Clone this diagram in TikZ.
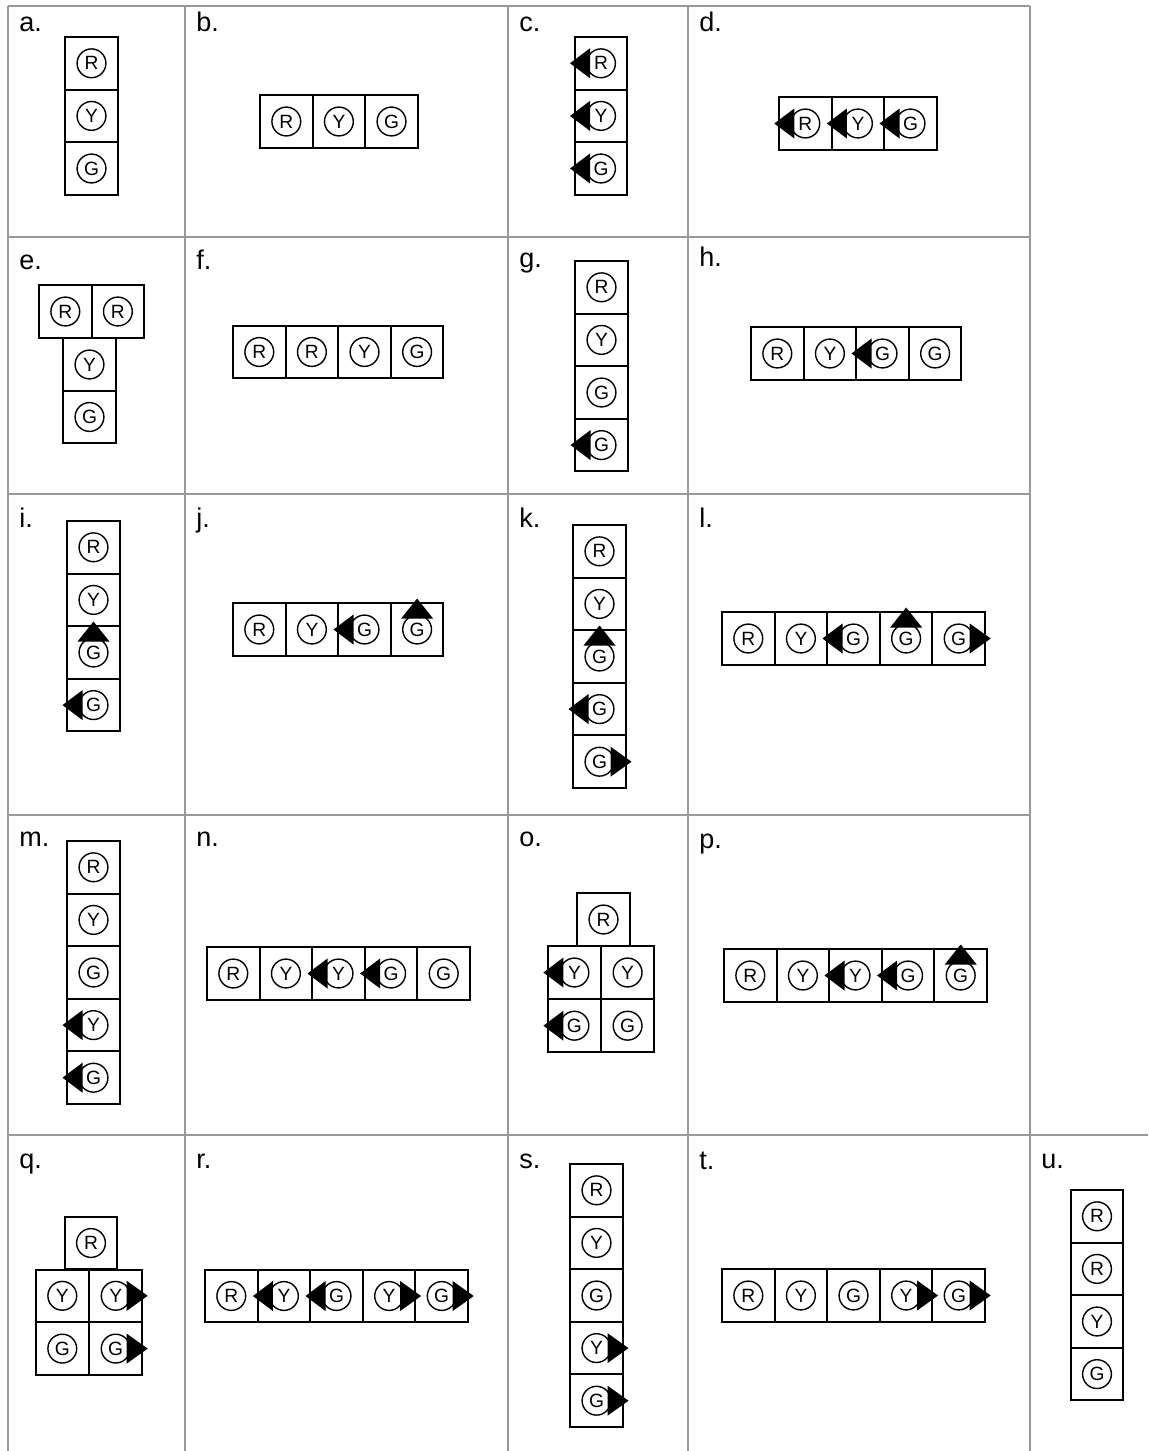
\documentclass[tikz,border=0pt]{standalone}
\usepackage{fontspec}
\setmainfont{Liberation Sans}
\begin{document}
\begin{tikzpicture}[x=0.5pt,y=-0.5pt,
  sq/.style={draw, line width=1pt, minimum size=26.3pt, inner sep=0pt, outer sep=0pt},
  disc/.style={circle, draw, line width=0.7pt, minimum size=14.4pt, inner sep=0pt, font=\fontsize{9.6}{9.6}\selectfont},
  lbl/.style={anchor=base west, inner sep=0pt, font=\fontsize{13.5}{13.5}\selectfont},
  gridline/.style={draw=black!40, line width=1.3pt},
  tri/.style={fill=black}]
\newcommand\C[4]{\node[sq] (#1) at (#2,#3) {}; \node[disc] (#1o) at (#1.center) {#4};}
\newcommand\AL[1]{\fill[tri] ([xshift=-15.5pt]#1.center) -- ([xshift=-5.5pt,yshift=7.5pt]#1.center) -- ([xshift=-5.5pt,yshift=-7.5pt]#1.center) -- cycle;}
\newcommand\AR[1]{\fill[tri] ([xshift=16pt]#1.center) -- ([xshift=5.5pt,yshift=7.5pt]#1.center) -- ([xshift=5.5pt,yshift=-7.5pt]#1.center) -- cycle;}
\newcommand\AU[1]{\fill[tri] ([yshift=15.5pt]#1.center) -- ([xshift=8pt,yshift=5.5pt]#1.center) -- ([xshift=-8pt,yshift=5.5pt]#1.center) -- cycle;}
\useasboundingbox (0,0) rectangle (1148,1451);
% grid
\foreach \gx in {8,185,508,688,1030} {\draw[gridline] (\gx,6) -- (\gx,1451);}
\foreach \gy in {6,237,494,815} {\draw[gridline] (8,\gy) -- (1030,\gy);}
\draw[gridline] (8,1135) -- (1148,1135);
% labels
\node[lbl] (la) at (19,32) {a.};
\node[lbl] (lb) at (196,32) {b.};
\node[lbl] (lc) at (519,32) {c.};
\node[lbl] (ld) at (699,32) {d.};
\node[lbl] (le) at (19,269) {e.};
\node[lbl] (lf) at (196,269) {f.};
\node[lbl] (lg) at (519,267) {g.};
\node[lbl] (lh) at (699,266) {h.};
\node[lbl] (li) at (19,527) {i.};
\node[lbl] (lj) at (196,527) {j.};
\node[lbl] (lk) at (519,527) {k.};
\node[lbl] (ll) at (699,527) {l.};
\node[lbl] (lm) at (19,846) {m.};
\node[lbl] (ln) at (196,846) {n.};
\node[lbl] (lo) at (519,846) {o.};
\node[lbl] (lp) at (699,848) {p.};
\node[lbl] (lq) at (19,1168) {q.};
\node[lbl] (lr) at (196,1168) {r.};
\node[lbl] (ls) at (519,1168) {s.};
\node[lbl] (lt) at (699,1169) {t.};
\node[lbl] (lu) at (1041,1168) {u.};
% a
\C{a1}{91.5}{63.3}{R} \C{a2}{91.5}{115.9}{Y} \C{a3}{91.5}{168.5}{G}
% b
\C{b1}{286.3}{121.5}{R} \C{b2}{338.9}{121.5}{Y} \C{b3}{391.5}{121.5}{G}
% c
\C{c1}{601}{63.3}{R} \C{c2}{601}{115.9}{Y} \C{c3}{601}{168.5}{G}
\AL{c1} \AL{c2} \AL{c3}
% d
\C{d1}{805.3}{123.5}{R} \C{d2}{857.9}{123.5}{Y} \C{d3}{910.5}{123.5}{G}
\AL{d1} \AL{d2} \AL{d3}
% e
\C{e1}{65.3}{311.5}{R} \C{e2}{117.9}{311.5}{R} \C{e3}{89.5}{364.5}{Y} \C{e4}{89.5}{417}{G}
% f
\C{f1}{259.3}{352}{R} \C{f2}{311.9}{352}{R} \C{f3}{364.5}{352}{Y} \C{f4}{417.1}{352}{G}
% g
\C{g1}{601.5}{287.3}{R} \C{g2}{601.5}{339.9}{Y} \C{g3}{601.5}{392.5}{G} \C{g4}{601.5}{445.1}{G}
\AL{g4}
% h
\C{h1}{777.3}{353.5}{R} \C{h2}{829.9}{353.5}{Y} \C{h3}{882.5}{353.5}{G} \C{h4}{935.1}{353.5}{G}
\AL{h3}
% i
\C{i1}{93.5}{547.3}{R} \C{i2}{93.5}{599.9}{Y} \C{i3}{93.5}{652.5}{G} \C{i4}{93.5}{705.1}{G}
\AU{i3} \AL{i4}
% j
\C{j1}{259.3}{629.5}{R} \C{j2}{311.9}{629.5}{Y} \C{j3}{364.5}{629.5}{G} \C{j4}{417.1}{629.5}{G}
\AL{j3} \AU{j4}
% k
\C{k1}{599.5}{551.3}{R} \C{k2}{599.5}{603.9}{Y} \C{k3}{599.5}{656.5}{G} \C{k4}{599.5}{709.1}{G} \C{k5}{599.5}{761.7}{G}
\AU{k3} \AL{k4} \AR{k5}
% l
\C{l1}{748.3}{638.5}{R} \C{l2}{800.9}{638.5}{Y} \C{l3}{853.5}{638.5}{G} \C{l4}{906.1}{638.5}{G} \C{l5}{958.7}{638.5}{G}
\AL{l3} \AU{l4} \AR{l5}
% m
\C{m1}{93.5}{867.3}{R} \C{m2}{93.5}{919.9}{Y} \C{m3}{93.5}{972.5}{G} \C{m4}{93.5}{1025.1}{Y} \C{m5}{93.5}{1077.7}{G}
\AL{m4} \AL{m5}
% n
\C{n1}{233.3}{973.5}{R} \C{n2}{285.9}{973.5}{Y} \C{n3}{338.5}{973.5}{Y} \C{n4}{391.1}{973.5}{G} \C{n5}{443.7}{973.5}{G}
\AL{n3} \AL{n4}
% o
\C{o1}{603.5}{919.5}{R} \C{o2}{574.4}{972.5}{Y} \C{o3}{627.6}{972.5}{Y} \C{o4}{574.4}{1025.7}{G} \C{o5}{627.6}{1025.7}{G}
\AL{o2} \AL{o4}
% p
\C{p1}{750.3}{975.5}{R} \C{p2}{802.9}{975.5}{Y} \C{p3}{855.5}{975.5}{Y} \C{p4}{908.1}{975.5}{G} \C{p5}{960.7}{975.5}{G}
\AL{p3} \AL{p4} \AU{p5}
% q
\C{q1}{91}{1243}{R} \C{q2}{62.3}{1295.8}{Y} \C{q3}{115.7}{1295.8}{Y} \C{q4}{62.3}{1348.6}{G} \C{q5}{115.7}{1348.6}{G}
\AR{q3} \AR{q5}
% r
\C{r1}{231.3}{1296}{R} \C{r2}{283.9}{1296}{Y} \C{r3}{336.5}{1296}{G} \C{r4}{389.1}{1296}{Y} \C{r5}{441.7}{1296}{G}
\AL{r2} \AL{r3} \AR{r4} \AR{r5}
% s
\C{s1}{596.5}{1190.3}{R} \C{s2}{596.5}{1242.9}{Y} \C{s3}{596.5}{1295.5}{G} \C{s4}{596.5}{1348.1}{Y} \C{s5}{596.5}{1400.7}{G}
\AR{s4} \AR{s5}
% t
\C{t1}{748.3}{1295.5}{R} \C{t2}{800.9}{1295.5}{Y} \C{t3}{853.5}{1295.5}{G} \C{t4}{906.1}{1295.5}{Y} \C{t5}{958.7}{1295.5}{G}
\AR{t4} \AR{t5}
% u
\C{u1}{1097}{1216.3}{R} \C{u2}{1097}{1268.9}{R} \C{u3}{1097}{1321.5}{Y} \C{u4}{1097}{1374.1}{G}
\end{tikzpicture}
\end{document}
